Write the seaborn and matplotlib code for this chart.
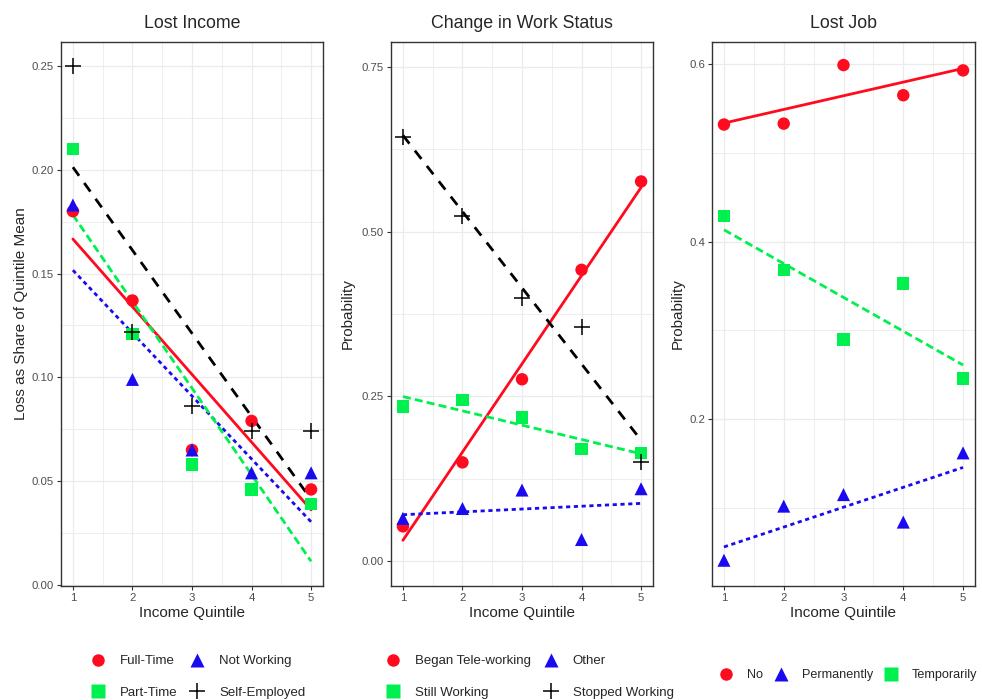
import numpy as np
import pandas as pd
import matplotlib.pyplot as plt
import seaborn as sns
from matplotlib.lines import Line2D
from matplotlib.ticker import MultipleLocator

# Data
quintiles = [1, 2, 3, 4, 5]

# Lost Income
income_groups = ["Full-Time", "Not Working", "Part-Time", "Self-Employed"]
income_full_time = [0.180, 0.137, 0.065, 0.079, 0.046]
income_not_working = [0.183, 0.099, 0.065, 0.054, 0.054]
income_part_time = [0.210, 0.121, 0.058, 0.046, 0.039]
income_self_employed = [0.250, 0.122, 0.086, 0.074, 0.074]

# Change in Work Status
status_groups = ["Began Tele-working", "Other", "Still Working", "Stopped Working"]
status_tele = [0.053, 0.150, 0.276, 0.442, 0.576]
status_other = [0.065, 0.080, 0.108, 0.033, 0.110]
status_still = [0.235, 0.245, 0.218, 0.170, 0.164]
status_stopped = [0.644, 0.524, 0.400, 0.356, 0.150]

# Lost Job
job_groups = ["No", "Permanently", "Temporarily"]
job_no = [0.532, 0.533, 0.599, 0.565, 0.593]
job_perm = [0.041, 0.102, 0.115, 0.084, 0.162]
job_temp = [0.429, 0.368, 0.290, 0.353, 0.246]


def long_frame(groups, series):
    rows = []
    for g, vals in zip(groups, series):
        for q, v in zip(quintiles, vals):
            rows.append({"quintile": q, "value": v, "group": g})
    return pd.DataFrame(rows)


df_income = long_frame(income_groups, [income_full_time, income_not_working,
                                       income_part_time, income_self_employed])
df_status = long_frame(status_groups, [status_tele, status_other,
                                       status_still, status_stopped])
df_job = long_frame(job_groups, [job_no, job_perm, job_temp])

# styles: red circle solid, blue triangle dotted, green square dashed, black plus longdash
RED, BLUE, GREEN, BLACK = "#FF0A1E", "#1A0AF0", "#00F050", "#000000"
style_red = dict(color=RED, marker="o", dashes=None)
style_blue = dict(color=BLUE, marker="^", dashes=(1.5, 1.3))
style_green = dict(color=GREEN, marker="s", dashes=(2.9, 1.5))
style_black = dict(color=BLACK, marker="+", dashes=(3.8, 3.2))

sns.set_style("white")
plt.rcParams["font.family"] = ["Liberation Sans", "DejaVu Sans"]

fig = plt.figure(figsize=(9.82, 7.0), dpi=100)
W, H = 982, 700


def add_panel(left, right, top=42, bottom=586):
    return fig.add_axes([left / W, 1 - bottom / H, (right - left) / W, (bottom - top) / H])


def draw_panel(ax, df, groups, styles, title, ylabel, ylim, ymajor, yfmt, ylabelpad=3):
    for g, st in zip(groups, styles):
        sub = df[df["group"] == g]
        sns.regplot(data=sub, x="quintile", y="value", ci=None, scatter=False,
                    color=st["color"], ax=ax, truncate=True,
                    line_kws=dict(lw=2.0, zorder=2))
        if st["dashes"] is not None:
            ax.lines[-1].set_dashes(st["dashes"])
    for g, st in zip(groups, styles):
        sub = df[df["group"] == g]
        if st["marker"] == "+":
            sns.scatterplot(data=sub, x="quintile", y="value", marker="+", s=130,
                            color=st["color"], linewidth=1.1, ax=ax, zorder=3)
        else:
            sns.scatterplot(data=sub, x="quintile", y="value", marker=st["marker"],
                            s=88 if st["marker"] == "^" else 80, color=st["color"],
                            edgecolor="none", ax=ax, zorder=3)
    ax.set_xlim(0.8, 5.2)
    ax.set_ylim(*ylim)
    ax.xaxis.set_major_locator(MultipleLocator(1))
    ax.xaxis.set_minor_locator(MultipleLocator(0.5))
    ax.yaxis.set_major_locator(MultipleLocator(ymajor))
    ax.yaxis.set_minor_locator(MultipleLocator(ymajor / 2))
    ax.yaxis.set_major_formatter(plt.FormatStrFormatter(yfmt))
    ax.grid(True, which="major", color="#EBEBEB", lw=0.9, zorder=0)
    ax.grid(True, which="minor", color="#EBEBEB", lw=0.6, zorder=0)
    ax.set_axisbelow(True)
    for sp in ax.spines.values():
        sp.set_color("#333333")
        sp.set_linewidth(1.0)
    ax.tick_params(axis="both", which="major", length=3, width=0.8, color="#333333",
                   labelsize=8.2, labelcolor="#4D4D4D", pad=2, bottom=True, left=True)
    ax.tick_params(axis="both", which="minor", length=0)
    ax.set_title(title, fontsize=12.8, pad=10)
    ax.set_xlabel("Income Quintile", fontsize=11, labelpad=2.5)
    ax.set_ylabel(ylabel, fontsize=11, labelpad=ylabelpad)


def add_legend(ax, groups, styles, order, ncol, x_left, y_top, colsp, fs=9.5):
    legend_ms = {"o": 9, "^": 10, "s": 10}
    handles = []
    for g, st in zip(groups, styles):
        if st["marker"] == "+":
            h = Line2D([], [], ls="none", marker="+", color=st["color"], ms=12, mew=1.1)
        else:
            h = Line2D([], [], ls="none", marker=st["marker"], color=st["color"],
                       ms=legend_ms[st["marker"]], mec="none")
        handles.append(h)
    handles = [handles[i] for i in order]
    labels = [groups[i] for i in order]
    ax.legend(handles, labels, loc="upper left", ncol=ncol, frameon=False,
              bbox_to_anchor=(x_left / W, 1 - y_top / H), bbox_transform=fig.transFigure,
              fontsize=fs, borderpad=0, borderaxespad=0, handlelength=1.0,
              handletextpad=1.17, columnspacing=colsp, labelspacing=1.45)


ax1 = add_panel(61, 323)
ax2 = add_panel(391, 653)
ax3 = add_panel(712, 975)

styles4 = [style_red, style_blue, style_green, style_black]
draw_panel(ax1, df_income, income_groups, styles4, "Lost Income",
           "Loss as Share of Quintile Mean", (-0.0005, 0.2615), 0.05, "%.2f")
draw_panel(ax2, df_status, status_groups, styles4, "Change in Work Status",
           "Probability", (-0.0375, 0.7875), 0.25, "%.2f", ylabelpad=5)
draw_panel(ax3, df_job, job_groups, [style_red, style_blue, style_green], "Lost Job",
           "Probability", (0.012, 0.625), 0.2, "%.1f")

# row-wise legend order (matplotlib fills columns first)
add_legend(ax1, income_groups, styles4, [0, 2, 1, 3], 2, 91.4, 655, 1.0)
add_legend(ax2, status_groups, styles4, [0, 2, 1, 3], 2, 386.4, 655, 1.0)
add_legend(ax3, job_groups, [style_red, style_blue, style_green], [0, 1, 2], 3, 719.4, 669, 0.92, fs=9.1)

fig.savefig("out.png", dpi=100)
